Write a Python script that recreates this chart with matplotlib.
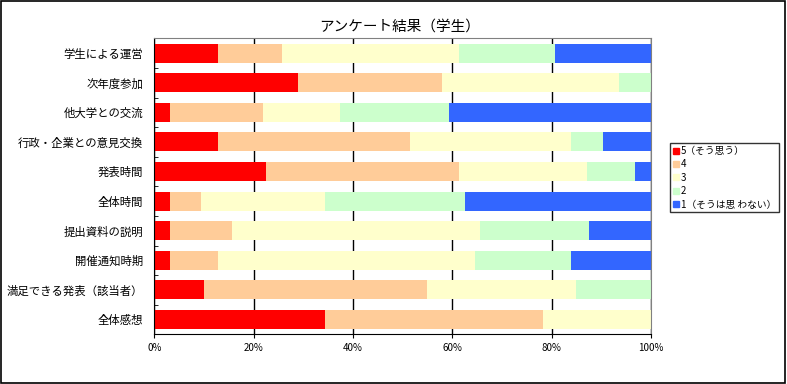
import matplotlib
matplotlib.use('Agg')
import matplotlib.pyplot as plt
from matplotlib.lines import Line2D
from matplotlib.patches import Rectangle

plt.rcParams['font.family'] = ['Noto Sans CJK JP', 'DejaVu Sans']

# アンケート項目（上から順）
項目 = ['学生による運営', '次年度参加', '他大学との交流', '行政・企業との意見交換', '発表時間',
      '全体時間', '提出資料の説明', '開催通知時期', '満足できる発表（該当者）', '全体感想']

# 回答割合 (%)
回答5 = [12.9, 29.0, 3.1, 12.9, 22.6, 3.1, 3.1, 3.2, 10.0, 34.4]
回答4 = [12.9, 29.0, 18.8, 38.7, 38.7, 6.3, 12.5, 9.7, 45.0, 43.8]
回答3 = [35.5, 35.5, 15.6, 32.3, 25.8, 25.0, 50.0, 51.6, 30.0, 21.9]
回答2 = [19.4, 6.5, 21.9, 6.5, 9.7, 28.1, 21.9, 19.4, 15.0, 0.0]
回答1 = [19.4, 0.0, 40.6, 9.7, 3.2, 37.5, 12.5, 16.1, 0.0, 0.0]

系列 = [回答5, 回答4, 回答3, 回答2, 回答1]
凡例 = ['5（そう思う）', '4', '3', '2', '1（そうは思 わない）']
色 = ['#FF0000', '#FFCC99', '#FFFFCC', '#CCFFCC', '#3366FF']
目盛 = ['0%', '20%', '40%', '60%', '80%', '100%']

fig = plt.figure(figsize=(7.87, 3.84), dpi=100)
ax = fig.add_axes([0.196, 0.1294, 0.631, 0.7706])

y = list(range(len(項目)))
左 = [0.0] * len(項目)
for 値, c in zip(系列, 色):
    ax.barh(y, 値, left=左, height=0.64, color=c, edgecolor='none', zorder=2)
    左 = [a + b for a, b in zip(左, 値)]

ax.set_xlim(0, 100)
ax.set_ylim(len(項目) - 0.5, -0.5)
ax.set_xticks([0, 20, 40, 60, 80, 100])
ax.set_xticklabels(目盛, fontsize=7)
ax.set_yticks(y)
ax.set_yticklabels(項目, fontsize=8.2)
ax.set_yticks([i + 0.5 for i in range(len(項目) - 1)], minor=True)
ax.tick_params(axis='y', which='major', length=0, pad=8)
ax.tick_params(axis='y', which='minor', length=3, direction='in', color='black')
ax.tick_params(axis='x', length=3, direction='out', pad=3, color='black')

ax.grid(axis='x', color='black', linewidth=1)
ax.set_axisbelow(True)
for s in ['left', 'bottom']:
    ax.spines[s].set_color('black')
for s in ['top', 'right']:
    ax.spines[s].set_color('#808080')

fig.text(0.508, 0.932, 'アンケート結果（学生）', ha='center', va='center', fontsize=10.5)

handles = [Line2D([], [], marker='s', linestyle='none', markersize=4, color=c) for c in 色]
leg = fig.legend(handles, 凡例, loc='upper left', bbox_to_anchor=(670 / 787, 1 - 143 / 384),
                 fontsize=7, frameon=True, fancybox=False, borderpad=0.3, labelspacing=0.35,
                 handlelength=0.6, handletextpad=0.2, borderaxespad=0)
leg.get_frame().set_edgecolor('black')
leg.get_frame().set_linewidth(1)

fig.patches.append(Rectangle((0.001, 0.002), 0.997, 0.996, transform=fig.transFigure,
                             fill=False, edgecolor='black', linewidth=1.2))

fig.savefig('out.png', dpi=100)
